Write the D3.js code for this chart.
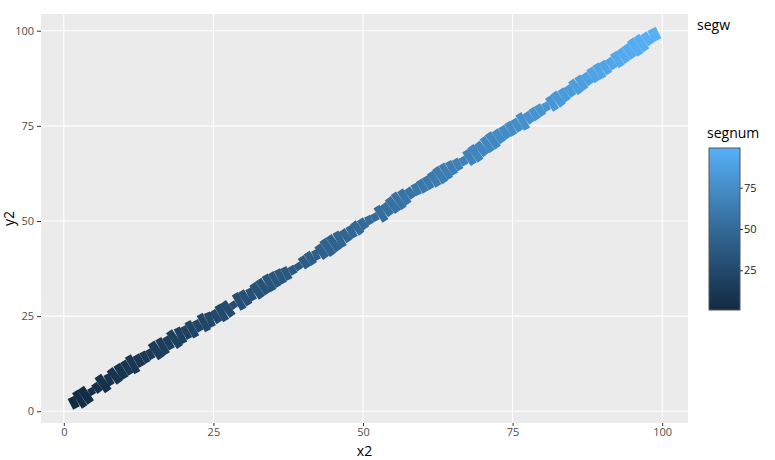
<!DOCTYPE html>
<html>
<head>
<meta charset="utf-8">
<script src="https://cdn.jsdelivr.net/npm/d3@7"></script>
<style>
  body { margin: 0; background: #fff; }
  text { font-family: "Open Sans", "DejaVu Sans", sans-serif; }
</style>
</head>
<body>
<script>
// point coordinates along the path
var x2 = [1.1, 2.2, 3.1, 4.2, 5.1, 6.0, 7.1, 8.0, 9.0, 10.1,
  11.0, 12.0, 13.1, 14.0, 14.9, 16.0, 17.0, 18.0, 19.0, 20.0,
  20.9, 21.9, 22.9, 23.9, 24.9, 25.9, 26.9, 27.9, 28.8, 29.8,
  30.8, 31.8, 32.8, 33.8, 34.8, 35.7, 36.7, 37.7, 38.7, 39.7,
  40.7, 41.7, 42.6, 43.6, 44.6, 45.6, 46.6, 47.6, 48.6, 49.5,
  50.5, 51.5, 52.5, 53.5, 54.5, 55.5, 56.4, 57.4, 58.4, 59.4,
  60.4, 61.4, 62.4, 63.4, 64.3, 65.3, 66.3, 67.3, 68.3, 69.3,
  70.3, 71.2, 72.2, 73.2, 74.2, 75.2, 76.2, 77.2, 78.2, 79.1,
  80.1, 81.1, 82.1, 83.1, 84.1, 85.1, 86.0, 87.0, 88.0, 89.0,
  90.0, 91.0, 92.0, 93.0, 94.0, 95.0, 96.0, 97.0, 98.0, 99.4];
var y2 = [1.8, 2.7, 3.6, 4.8, 5.6, 6.7, 7.9, 8.7, 9.9, 11.0,
  11.9, 12.8, 13.8, 14.6, 15.4, 16.6, 17.5, 18.4, 19.5, 20.3,
  21.1, 22.0, 22.9, 23.7, 24.4, 25.4, 26.3, 27.4, 28.4, 29.3,
  30.3, 31.1, 32.2, 33.3, 34.2, 35.0, 35.8, 36.6, 37.5, 38.6,
  39.7, 40.7, 41.4, 42.5, 43.6, 44.7, 45.6, 46.7, 47.6, 48.7,
  49.8, 50.6, 51.4, 52.4, 53.6, 54.8, 55.8, 56.8, 57.9, 58.7,
  59.6, 60.5, 61.5, 62.6, 63.5, 64.4, 65.3, 66.2, 67.2, 68.3,
  69.6, 70.6, 71.7, 72.8, 73.8, 74.7, 75.7, 76.6, 77.7, 78.6,
  79.6, 80.4, 81.4, 82.6, 83.6, 84.7, 85.8, 86.8, 87.9, 88.9,
  89.8, 90.8, 91.9, 92.9, 94.0, 95.1, 96.2, 97.3, 98.4, 99.5];
// per segment width value (segw), one per segment
var segw = [0.5, 0.9, 0.85, 0.2, 0.4, 0.9, 0.5, 0.8, 0.75, 0.7,
  0.95, 0.55, 0.5, 0.4, 0.9, 0.85, 0.6, 0.95, 0.8, 0.6,
  0.85, 0.5, 0.9, 0.7, 0.6, 0.85, 0.8, 0.2, 0.85, 0.75,
  0.55, 0.8, 0.8, 0.85, 0.75, 0.7, 0.6, 0.3, 0.2, 0.55,
  0.6, 0.4, 0.7, 0.9, 0.85, 0.8, 0.6, 0.55, 0.65, 0.45,
  0.3, 0.25, 0.8, 0.6, 0.8, 0.9, 0.75, 0.45, 0.5, 0.6,
  0.6, 0.75, 0.85, 0.8, 0.65, 0.5, 0.3, 0.75, 0.85, 0.7,
  0.8, 0.85, 0.65, 0.6, 0.65, 0.6, 0.85, 0.5, 0.55, 0.5,
  0.3, 0.7, 0.75, 0.6, 0.5, 0.75, 0.7, 0.55, 0.7, 0.75,
  0.65, 0.5, 0.75, 0.7, 0.7, 0.9, 0.85, 0.6, 0.55];
var xTicks = [0, 25, 50, 75, 100];
var yTicks = [0, 25, 50, 75, 100];
var barTicks = [25, 50, 75];

var segs = segw.map(function(w, i) {
  return {x: x2[i], y: y2[i], xend: x2[i + 1], yend: y2[i + 1], w: w, segnum: i + 1};
});

var W = 775, H = 460;
var panel = {left: 41, right: 688, top: 14, bottom: 423};

var svg = d3.select("body").append("svg")
  .attr("width", W)
  .attr("height", H);

function expand(ext) {
  var pad = (ext[1] - ext[0]) * 0.05;
  return [ext[0] - pad, ext[1] + pad];
}

var x = d3.scaleLinear().domain(expand(d3.extent(x2))).range([panel.left, panel.right]);
var y = d3.scaleLinear().domain(expand(d3.extent(y2))).range([panel.bottom, panel.top]);
var nExt = d3.extent(segs, d => d.segnum);
var color = d3.scaleLinear().domain(nExt).range(["#132B43", "#56B1F7"]).interpolate(d3.interpolateLab);
var width = d3.scaleLinear().domain([0, 1]).range([4, 20]);

// panel background
svg.append("rect")
  .attr("x", panel.left).attr("y", panel.top)
  .attr("width", panel.right - panel.left)
  .attr("height", panel.bottom - panel.top)
  .attr("fill", "#ebebeb");

// grid
svg.append("g").selectAll("line").data(xTicks).enter().append("line")
  .attr("x1", d => x(d)).attr("x2", d => x(d))
  .attr("y1", panel.top).attr("y2", panel.bottom)
  .attr("stroke", "#fff").attr("stroke-width", 1.1);
svg.append("g").selectAll("line").data(yTicks).enter().append("line")
  .attr("y1", d => y(d)).attr("y2", d => y(d))
  .attr("x1", panel.left).attr("x2", panel.right)
  .attr("stroke", "#fff").attr("stroke-width", 1.1);

// segments
svg.append("g").selectAll("line").data(segs).enter().append("line")
  .attr("x1", d => x(d.x)).attr("y1", d => y(d.y))
  .attr("x2", d => x(d.xend)).attr("y2", d => y(d.yend))
  .attr("stroke", d => color(d.segnum))
  .attr("stroke-width", d => width(d.w))
  .attr("stroke-linecap", "butt");

// axes
var xAxis = svg.append("g")
  .attr("transform", `translate(0, ${panel.bottom})`)
  .call(d3.axisBottom(x).tickValues(xTicks).tickSize(3).tickPadding(2));
var yAxis = svg.append("g")
  .attr("transform", `translate(${panel.left}, 0)`)
  .call(d3.axisLeft(y).tickValues(yTicks).tickSize(4).tickPadding(3));
[xAxis, yAxis].forEach(function(a) {
  a.select(".domain").remove();
  a.selectAll(".tick line").attr("stroke", "#333");
  a.selectAll(".tick text")
    .attr("fill", "#4d4d4d")
    .style("font-size", "11px")
    .style("font-family", '"Open Sans", sans-serif');
});

// axis titles
svg.append("text")
  .attr("x", (panel.left + panel.right) / 2)
  .attr("y", 456)
  .attr("text-anchor", "middle")
  .style("font-size", "14px")
  .text("x2");
svg.append("text")
  .attr("transform", `translate(14, ${(panel.top + panel.bottom) / 2}) rotate(-90)`)
  .attr("text-anchor", "middle")
  .style("font-size", "14px")
  .text("y2");

// legends
svg.append("text")
  .attr("x", 697).attr("y", 30)
  .style("font-size", "14px")
  .text("segw");
svg.append("text")
  .attr("x", 707).attr("y", 138)
  .style("font-size", "14px")
  .text("segnum");

var bar = {x: 709, y: 148, w: 31, h: 162};
var defs = svg.append("defs");
var grad = defs.append("linearGradient")
  .attr("id", "cbar")
  .attr("x1", 0).attr("y1", 1).attr("x2", 0).attr("y2", 0);
d3.range(0, 1.0001, 0.1).forEach(function(t) {
  grad.append("stop")
    .attr("offset", t)
    .attr("stop-color", color(nExt[0] + t * (nExt[1] - nExt[0])));
});
var barScale = d3.scaleLinear().domain(nExt).range([bar.y + bar.h, bar.y]);
svg.append("rect")
  .attr("x", bar.x).attr("y", bar.y)
  .attr("width", bar.w).attr("height", bar.h)
  .attr("fill", "url(#cbar)")
  .attr("stroke", "#555")
  .attr("stroke-width", 1);
var barAxis = svg.append("g")
  .attr("transform", `translate(${bar.x + bar.w}, 0)`)
  .call(d3.axisRight(barScale).tickValues(barTicks).tickSize(3).tickPadding(1));
barAxis.select(".domain").remove();
barAxis.selectAll(".tick line").attr("stroke", "#333");
barAxis.selectAll(".tick text")
  .attr("fill", "#1a1a1a")
  .style("font-size", "11px")
  .style("font-family", '"Open Sans", sans-serif');
</script>
</body>
</html>
